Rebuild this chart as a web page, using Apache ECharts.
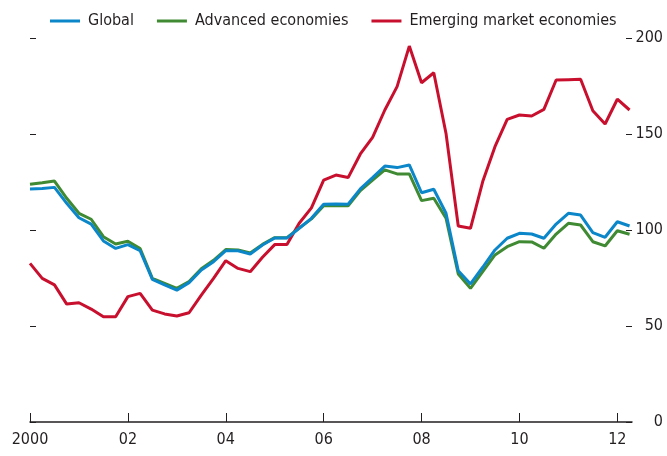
<!DOCTYPE html>
<html>
<head>
<meta charset="utf-8">
<script src="https://cdn.jsdelivr.net/npm/echarts@6/dist/echarts.min.js"></script>
<style>
  html, body { margin: 0; padding: 0; background: #fff; }
  #chart { width: 667px; height: 456px; }
</style>
</head>
<body>
<div id="chart"></div>
<script>
// quarterly, 2000Q1 .. 2012Q2
const startYear = 2000
const globalIdx = [121.3, 121.6, 122.2, 113.9, 106.4, 103.1, 94.3, 90.4, 92.4, 89.2,
  74.3, 71.4, 68.7, 72.6, 79.2, 83.5, 89.2, 89.2, 87.5, 92.2,
  95.8, 95.8, 100.9, 106.1, 113.4, 113.5, 113.4, 121.4, 127.3, 133.3,
  132.5, 133.9, 119.4, 121.2, 108.7, 78.8, 71.9, 80.6, 89.6, 95.7,
  98.3, 97.9, 95.7, 103.1, 108.7, 107.8, 98.6, 96.2, 104.3, 102.1]
const advancedIdx = [123.8, 124.6, 125.5, 116.5, 108.7, 105.6, 96.5, 92.7, 94.1, 90.3,
  74.8, 72.2, 69.6, 73.2, 79.8, 84.2, 89.8, 89.6, 88.0, 92.5,
  96.0, 96.0, 101.0, 105.8, 112.7, 112.6, 112.6, 120.5, 126.0, 131.3,
  129.2, 129.2, 115.3, 116.5, 106.1, 77.1, 69.6, 78.3, 87.0, 91.3,
  93.9, 93.8, 90.5, 97.9, 103.5, 102.6, 93.9, 91.7, 99.6, 97.8]
const emergingIdx = [82.6, 74.8, 71.4, 61.4, 62.1, 58.8, 54.8, 54.8, 65.3, 67.0,
  58.3, 56.3, 55.2, 56.9, 66.1, 74.8, 84.0, 80.0, 78.3, 85.8,
  92.4, 92.4, 103.5, 111.5, 126.0, 128.6, 127.3, 139.6, 148.3, 162.5,
  174.7, 195.8, 176.7, 181.9, 150.3, 102.1, 100.9, 125.2, 143.4, 157.6,
  159.9, 159.4, 162.8, 178.1, 178.3, 178.5, 162.1, 155.2, 168.1, 162.5]
const tickYears = [2000, 2002, 2004, 2006, 2008, 2010, 2012]
const tickLabels = ['2000', '02', '04', '06', '08', '10', '12']

const font = "'DejaVu Sans Condensed', sans-serif"
const ink = '#231f20'

function toPoints (values) {
  return values.map((v, i) => [startYear + i / 4, v])
}

const chart = echarts.init(document.getElementById('chart'))
const option = {
  animation: false,
  textStyle: { fontFamily: font },
  legend: {
    left: 45,
    top: 8,
    icon: 'rect',
    itemWidth: 30,
    itemHeight: 3,
    itemGap: 23,
    textStyle: { fontSize: 16, color: ink, fontFamily: font, padding: [0, 0, 0, 3] },
    data: ['Global', 'Advanced economies', 'Emerging market economies']
  },
  grid: { left: 30, right: 35, top: 38, bottom: 34 },
  xAxis: {
    type: 'value',
    min: 2000,
    max: 2012.3,
    splitLine: { show: false },
    axisLine: { lineStyle: { color: ink, width: 1.5 } },
    axisTick: {
      inside: true,
      length: 9,
      customValues: tickYears,
      lineStyle: { color: ink, width: 1 }
    },
    axisLabel: {
      customValues: tickYears,
      margin: 10,
      fontSize: 16,
      color: ink,
      fontFamily: font,
      formatter: v => tickLabels[tickYears.indexOf(Math.round(v))] || ''
    }
  },
  yAxis: [
    {
      type: 'value',
      position: 'left',
      min: 0,
      max: 200,
      interval: 50,
      splitLine: { show: false },
      axisLine: { show: false },
      axisTick: { show: true, inside: true, length: 6, lineStyle: { color: ink } },
      axisLabel: { show: false }
    },
    {
      type: 'value',
      position: 'right',
      min: 0,
      max: 200,
      interval: 50,
      splitLine: { show: false },
      axisLine: { show: false },
      axisTick: { show: true, inside: true, length: 6, lineStyle: { color: ink } },
      axisLabel: { align: 'right', margin: 31, fontSize: 16, color: ink, fontFamily: font }
    }
  ],
  series: [
    {
      name: 'Global',
      type: 'line',
      z: 4,
      symbol: 'none',
      itemStyle: { color: '#0a86c9' },
      lineStyle: { width: 3, color: '#0a86c9' },
      data: toPoints(globalIdx)
    },
    {
      name: 'Advanced economies',
      type: 'line',
      z: 3,
      symbol: 'none',
      itemStyle: { color: '#3f8a32' },
      lineStyle: { width: 3, color: '#3f8a32' },
      data: toPoints(advancedIdx)
    },
    {
      name: 'Emerging market economies',
      type: 'line',
      z: 2,
      symbol: 'none',
      itemStyle: { color: '#c8102e' },
      lineStyle: { width: 3, color: '#c8102e' },
      data: toPoints(emergingIdx)
    }
  ]
}
chart.setOption(option)
</script>
</body>
</html>
